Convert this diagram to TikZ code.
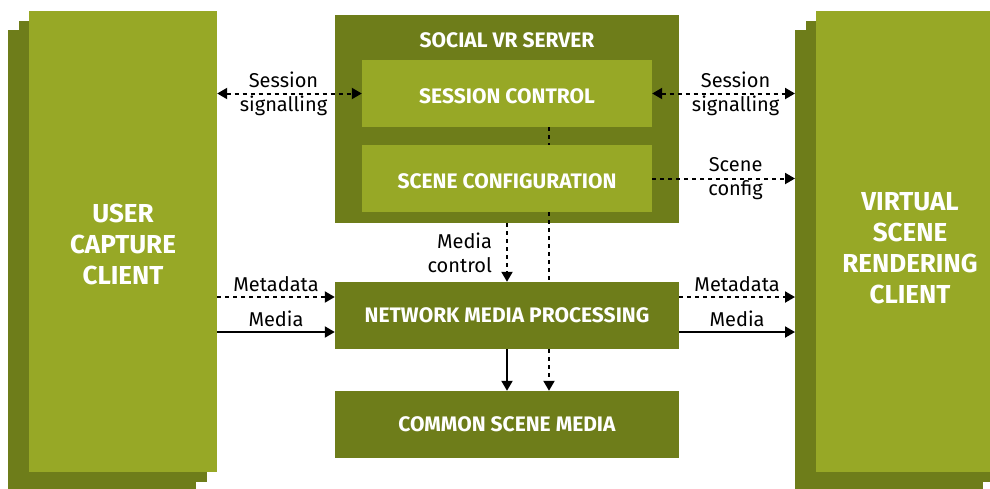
\documentclass[tikz,border=0pt]{standalone}
\usepackage{fontspec}
\setmainfont{Fira Sans}
\usetikzlibrary{arrows.meta,shadows}
\definecolor{litegreen}{HTML}{97A826}
\definecolor{darkgreen}{HTML}{6E7D1A}
\tikzstyle{client}=[fill=litegreen,minimum width=188pt,minimum height=461pt,text=white,align=center,font=\bfseries\fontsize{26}{31}\selectfont,double copy shadow={shadow xshift=-10.5pt,shadow yshift=-9.5pt,fill=darkgreen,draw=none}]
\tikzstyle{server}=[fill=darkgreen,minimum width=344pt,minimum height=208pt]
\tikzstyle{inner}=[fill=litegreen,minimum width=290pt,minimum height=67pt,text=white,text height=19pt,text depth=0pt,font=\bfseries\fontsize{21}{24}\selectfont]
\tikzstyle{block}=[fill=darkgreen,minimum width=344pt,minimum height=67pt,text=white,font=\bfseries\fontsize{21}{24}\selectfont]
\tikzstyle{flow}=[line width=2pt,->]
\tikzstyle{ctrl}=[line width=2pt,dash pattern=on 4pt off 4pt]
\tikzstyle{lbl}=[font=\fontsize{20}{24}\selectfont,align=center,inner sep=1pt]
\newcommand{\ttl}{\bfseries\fontsize{21}{24}\selectfont}

\begin{document}
\begin{tikzpicture}[x=1pt,y=-1pt,>={Triangle[length=10pt,width=11pt]}]
  \useasboundingbox (0,0) rectangle (990,488);
  \clip (0,0) rectangle (990,488);
  % clients
  \node[client] (ucc) at (123,241.5) {\rule{0pt}{24pt}USER\\CAPTURE\\CLIENT};
  \node[client] (vsrc) at (910,241.5) {\rule{0pt}{32pt}VIRTUAL\\SCENE\\RENDERING\\CLIENT};
  % server side
  \node[server,label={[anchor=center,yshift=-25pt,text=white,font=\ttl]north:SOCIAL VR SERVER}] (srv) at (507,119) {};
  \node[inner] (sesctl) at (507,93.5) {SESSION CONTROL};
  \node[inner] (scncfg) at (507,178.5) {SCENE CONFIGURATION};
  \node[block] (nmp) at (507,315.5) {NETWORK MEDIA PROCESSING};
  \node[block] (csm) at (507,424.5) {COMMON SCENE MEDIA};
  \coordinate (cfgx) at (549,0);
  \coordinate (vedge) at (795,0);

  % session signalling
  \draw[ctrl,<->] (ucc.east |- sesctl) -- (sesctl.west)
    node[lbl,midway,xshift=-6pt] {Session\\signalling};
  \draw[ctrl,<->] (sesctl.east) -- (vedge |- sesctl)
    node[lbl,midway,xshift=12pt] {Session\\signalling};
  \draw[ctrl,->] (scncfg.east) -- (vedge |- scncfg)
    node[lbl,midway,xshift=12pt] {Scene\\config};
  % server to processing
  \draw[ctrl] (sesctl.south -| cfgx) -- (scncfg.north -| cfgx);
  \draw[ctrl] (scncfg.south -| cfgx) -- (nmp.north -| cfgx);
  \draw[ctrl,->] (nmp.south -| cfgx) -- (csm.north -| cfgx);
  \draw[ctrl,->] (srv.south) -- (nmp.north)
    node[lbl,midway,anchor=east,align=right,xshift=-13pt] {Media\\control};
  \draw[flow] (nmp.south) -- (csm.north);
  % media streams
  \draw[ctrl,->] (ucc.east |- 0,297) -- (nmp.west |- 0,297)
    node[lbl,midway,anchor=south,yshift=3pt] {Metadata};
  \draw[flow] (ucc.east |- 0,332) -- (nmp.west |- 0,332)
    node[lbl,midway,anchor=south,yshift=3pt] {Media};
  \draw[ctrl,->] (nmp.east |- 0,297) -- (vedge |- 0,297)
    node[lbl,midway,anchor=south,yshift=3pt] {Metadata};
  \draw[flow] (nmp.east |- 0,332) -- (vedge |- 0,332)
    node[lbl,midway,anchor=south,yshift=3pt] {Media};
\end{tikzpicture}
\end{document}
